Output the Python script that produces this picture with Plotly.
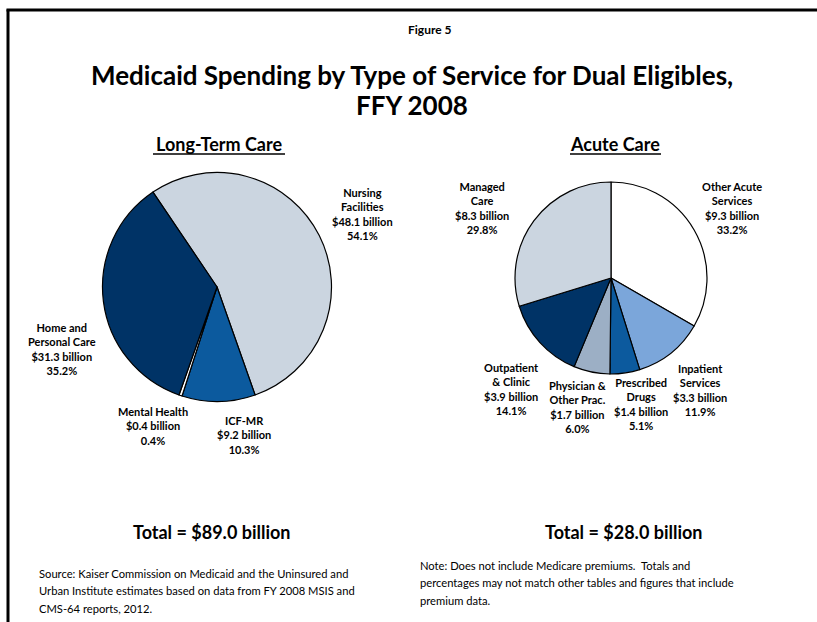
import plotly.graph_objects as go

W, H = 817, 622

# Long-term care spending (billions), clockwise from Nursing Facilities
ltc_labels = ["Nursing Facilities", "ICF-MR", "Mental Health", "Home and Personal Care"]
ltc_values = [48.1, 9.2, 0.4, 31.3]
ltc_pct = [54.1, 10.3, 0.4, 35.2]
ltc_colors = ["#CBD5E0", "#0C5A9E", "#FFFFFF", "#003366"]

# Acute care spending (billions), clockwise from Other Acute Services
ac_labels = ["Other Acute Services", "Inpatient Services", "Prescribed Drugs",
             "Physician & Other Prac.", "Outpatient & Clinic", "Managed Care"]
ac_values = [9.3, 3.3, 1.4, 1.7, 3.9, 8.3]
ac_pct = [33.2, 11.9, 5.1, 6.0, 14.1, 29.8]
ac_colors = ["#FFFFFF", "#7BA6DA", "#0C5A9E", "#9CAFC5", "#003366", "#CBD5E0"]

# Multi-line label text for each slice
ltc_label_lines = {
    "Nursing Facilities": "Nursing<br>Facilities",
    "ICF-MR": "ICF-MR",
    "Mental Health": "Mental Health",
    "Home and Personal Care": "Home and<br>Personal Care",
}
ac_label_lines = {
    "Other Acute Services": "Other Acute<br>Services",
    "Inpatient Services": "Inpatient<br>Services",
    "Prescribed Drugs": "Prescribed<br>Drugs",
    "Physician & Other Prac.": "Physician &<br>Other Prac.",
    "Outpatient & Clinic": "Outpatient<br>& Clinic",
    "Managed Care": "Managed<br>Care",
}

# Label anchor positions in pixels (centre x, top y)
ltc_label_pos = {
    "Nursing Facilities": (362, 184),
    "ICF-MR": (244, 412),
    "Mental Health": (153, 403),
    "Home and Personal Care": (62, 319),
}
ac_label_pos = {
    "Other Acute Services": (732, 178),
    "Inpatient Services": (700, 360),
    "Prescribed Drugs": (641, 374),
    "Physician & Other Prac.": (577, 377),
    "Outpatient & Clinic": (511, 359),
    "Managed Care": (482, 178),
}

source_lines = [
    "Source: Kaiser Commission on Medicaid and the Uninsured and",
    "Urban Institute estimates based on data from FY 2008 MSIS and",
    "CMS-64 reports, 2012.",
]
note_lines = [
    "Note: Does not include Medicare premiums.  Totals and",
    "percentages may not match other tables and figures that include",
    "premium data.",
]

FONT = "Lato"


def px(x):
    return x / W


def py(y):
    return 1 - y / H


def dom(cx, cy, r):
    return dict(x=[px(cx - r), px(cx + r)], y=[py(cy + r), py(cy - r)])


fig = go.Figure()

fig.add_trace(go.Pie(
    labels=ltc_labels, values=ltc_values, sort=False, direction="clockwise",
    rotation=-34, textinfo="none", hoverinfo="label+value+percent",
    marker=dict(colors=ltc_colors, line=dict(color="#000000", width=1.2)),
    domain=dom(217, 287, 114.5), showlegend=False,
))
fig.add_trace(go.Pie(
    labels=ac_labels, values=ac_values, sort=False, direction="clockwise",
    rotation=0, textinfo="none", hoverinfo="label+value+percent",
    marker=dict(colors=ac_colors, line=dict(color="#000000", width=1.2)),
    domain=dom(611, 278, 96), showlegend=False,
))

annotations = []


def add_text(x, y, text, size, bold=True, xanchor="center", yanchor="middle", align="center"):
    annotations.append(dict(
        x=px(x), y=py(y), xref="paper", yref="paper", text=text, showarrow=False,
        xanchor=xanchor, yanchor=yanchor, align=align,
        font=dict(family=FONT, size=size, color="#000000",
                  weight="bold" if bold else "normal"),
    ))


def slice_label(text, value, pct, pos):
    x, y = pos
    body = f"{text}<br>${value:.1f} billion<br>{pct:.1f}%"
    annotations.append(dict(
        x=px(x), y=py(y), xref="paper", yref="paper", text=body, showarrow=False,
        xanchor="center", yanchor="top", align="center",
        font=dict(family=FONT, size=11, color="#000000", weight="bold"),
    ))


for n, v, p in zip(ltc_labels, ltc_values, ltc_pct):
    slice_label(ltc_label_lines[n], v, p, ltc_label_pos[n])
for n, v, p in zip(ac_labels, ac_values, ac_pct):
    slice_label(ac_label_lines[n], v, p, ac_label_pos[n])

add_text(430, 30, "Figure 5", 12)
add_text(412, 75, "Medicaid Spending by Type of Service for Dual Eligibles,", 26)
add_text(412, 105, "FFY 2008", 26)
add_text(219, 144, "Long-Term Care", 18)
add_text(615, 144, "Acute Care", 18)
add_text(212, 532, "Total = $89.0 billion", 18)
add_text(624, 532, "Total = $28.0 billion", 18)

for i, line in enumerate(source_lines):
    add_text(37, 573 + 17.5 * i, line, 11.2, bold=False, xanchor="left", align="left")
for i, line in enumerate(note_lines):
    add_text(418, 565 + 17.5 * i, line, 11.2, bold=False, xanchor="left", align="left")

shapes = [
    # frame: left and top edges
    dict(type="line", xref="paper", yref="paper", x0=px(8), x1=px(8), y0=py(9.5), y1=py(630),
         line=dict(color="#000000", width=3)),
    dict(type="line", xref="paper", yref="paper", x0=px(6.5), x1=px(830), y0=py(10), y1=py(10),
         line=dict(color="#000000", width=3)),
    # subtitle underlines
    dict(type="line", xref="paper", yref="paper", x0=px(153), x1=px(285), y0=py(154), y1=py(154),
         line=dict(color="#000000", width=1.5)),
    dict(type="line", xref="paper", yref="paper", x0=px(570), x1=px(661), y0=py(154), y1=py(154),
         line=dict(color="#000000", width=1.5)),
]

fig.update_layout(
    width=W, height=H, margin=dict(l=0, r=0, t=0, b=0),
    paper_bgcolor="#FFFFFF", plot_bgcolor="#FFFFFF",
    annotations=annotations, shapes=shapes,
)

fig.write_html("out.html")
